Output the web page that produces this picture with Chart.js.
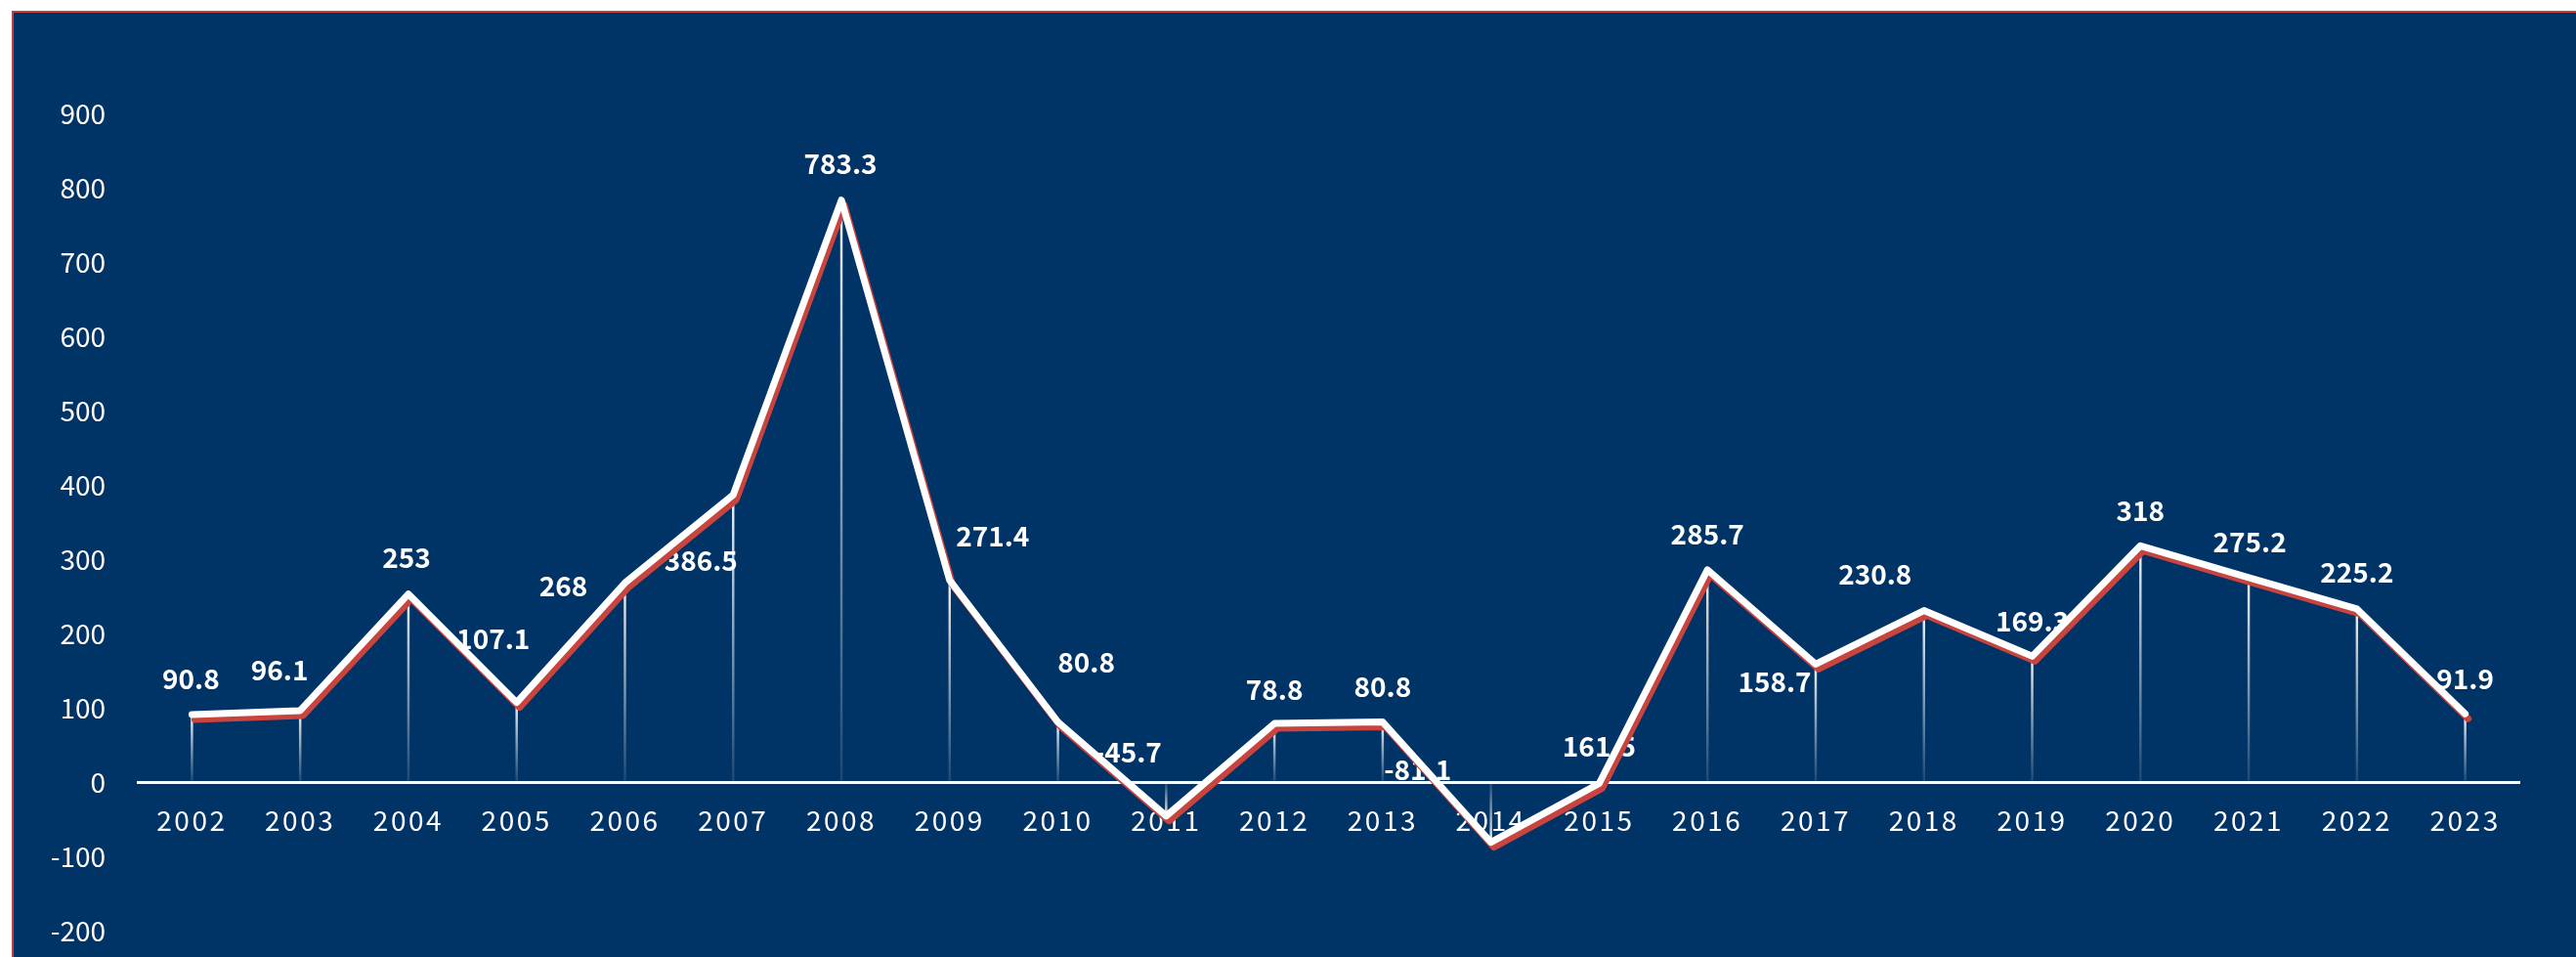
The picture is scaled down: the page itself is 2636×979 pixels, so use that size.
<!DOCTYPE html>
<html><head><meta charset="utf-8">
<script src="https://cdn.jsdelivr.net/npm/chart.js@4/dist/chart.umd.min.js"></script>
<style>
html,body{margin:0;padding:0;background:#ffffff;width:2636px;height:979px;overflow:hidden;}
#bg{position:absolute;left:12px;top:11px;width:2624px;height:968px;box-sizing:border-box;background:#003366;border-top:2px solid #c4403f;border-left:2px solid #c4403f;}
#c{position:absolute;left:0;top:0;}
</style></head><body>
<div id="bg"></div>
<canvas id="c" width="2636" height="979"></canvas>
<script>
const years = ['2002','2003','2004','2005','2006','2007','2008','2009','2010','2011','2012','2013','2014','2015','2016','2017','2018','2019','2020','2021','2022','2023'];
const values = [90.8, 96.1, 253, 107.1, 268, 386.5, 783.3, 271.4, 80.8, -45.7, 78.8, 80.8, -81.1, -2, 285.7, 158.7, 230.8, 169.3, 318, 275.2, 233, 91.9];
const valueLabels = ['90.8','96.1','253','107.1','268','386.5','783.3','271.4','80.8','-45.7','78.8','80.8','-81.1','161.5','285.7','158.7','230.8','169.3','318','275.2','225.2','91.9'];
const yTickValues = [-200, -100, 0, 100, 200, 300, 400, 500, 600, 700, 800, 900];
// label placement relative to its point (styling)
const labelOffsets = [[-1,-37],[-21,-42],[-2,-37],[-24,-65],[-63,3],[-33,67],[-1,-37],[44,-45],[29,-61],[-39,-65],[0,-35],[0,-36],[-75,-74],[0,-38],[0,-37],[-42,18],[-50,-37],[0,-36],[0,-36],[1,-36],[0,-38],[0,-36]];

const FONT = '"Noto Sans CJK SC", "Noto Sans", sans-serif';

const shadowPlugin = {
  id: 'lineShadow',
  beforeDatasetDraw(chart, args) {
    if (args.meta.type === 'line') {
      const c = chart.ctx;
      c.save();
      c.shadowColor = '#c8443f';
      c.shadowOffsetX = 3;
      c.shadowOffsetY = 5;
      c.shadowBlur = 0;
    }
  },
  afterDatasetDraw(chart, args) {
    if (args.meta.type === 'line') chart.ctx.restore();
  }
};

const labelPlugin = {
  id: 'valueLabels',
  beforeDatasetsDraw(chart) {
    const idx = chart.data.datasets.findIndex(d => d.type === 'line');
    const meta = chart.getDatasetMeta(idx);
    const c = chart.ctx;
    c.save();
    c.font = 'bold 28px ' + FONT;
    c.fillStyle = '#ffffff';
    c.textAlign = 'center';
    c.textBaseline = 'middle';
    meta.data.forEach((pt, i) => {
      const o = labelOffsets[i];
      c.fillText(valueLabels[i], pt.x + o[0], pt.y + o[1]);
    });
    c.restore();
  }
};

const spacingPlugin = {
  id: 'xLetterSpacing',
  beforeDraw(chart) {
    const xs = chart.scales.x;
    if (xs && !xs.__ls) {
      const orig = xs.drawLabels;
      xs.drawLabels = function (a) {
        const c = this.ctx;
        const prev = c.letterSpacing;
        c.letterSpacing = '2.5px';
        orig.call(this, a);
        c.letterSpacing = prev;
      };
      xs.__ls = true;
    }
  }
};

new Chart(document.getElementById('c'), {
  data: {
    labels: years,
    datasets: [
      {
        type: 'line',
        data: values,
        borderColor: '#ffffff',
        borderWidth: 7,
        borderJoinStyle: 'round',
        borderCapStyle: 'round',
        pointRadius: 0,
        tension: 0,
        order: 1
      },
      {
        type: 'bar',
        data: values,
        barThickness: 1.8,
        order: 2,
        backgroundColor: (ctx) => {
          const chart = ctx.chart;
          if (!chart.chartArea || ctx.type !== 'data') return 'rgba(255,255,255,0.5)';
          const ys = chart.scales.y;
          const y0 = ys.getPixelForValue(0);
          const y1 = ys.getPixelForValue(ctx.raw);
          if (Math.abs(y1 - y0) < 1) return 'rgba(255,255,255,0.3)';
          const g = chart.ctx.createLinearGradient(0, y1, 0, y0);
          g.addColorStop(0, 'rgba(255,255,255,0.95)');
          g.addColorStop(1, 'rgba(255,255,255,0.1)');
          return g;
        }
      }
    ]
  },
  options: {
    responsive: false,
    animation: false,
    devicePixelRatio: 1,
    layout: { padding: { top: 116, bottom: 27, left: 0, right: 58 } },
    plugins: { legend: { display: false }, tooltip: { enabled: false } },
    scales: {
      x: {
        type: 'category',
        position: { y: 0 },
        offset: true,
        grid: { display: true, color: 'rgba(0,0,0,0)', drawTicks: false },
        border: { display: true, color: '#ffffff', width: 3 },
        ticks: { color: '#ffffff', font: { family: FONT, size: 28 }, padding: 23, maxRotation: 0, autoSkip: false }
      },
      y: {
        min: -200,
        max: 900,
        afterBuildTicks: (s) => { s.ticks = yTickValues.map(v => ({ value: v })); },
        afterFit: (s) => { s.width = 141; s.paddingTop = 0; s.paddingBottom = 0; },
        grid: { display: false, drawTicks: false },
        border: { display: false },
        ticks: { color: '#ffffff', font: { family: FONT, size: 28 }, padding: 33 }
      }
    }
  },
  plugins: [shadowPlugin, labelPlugin, spacingPlugin]
});
</script>
</body></html>
